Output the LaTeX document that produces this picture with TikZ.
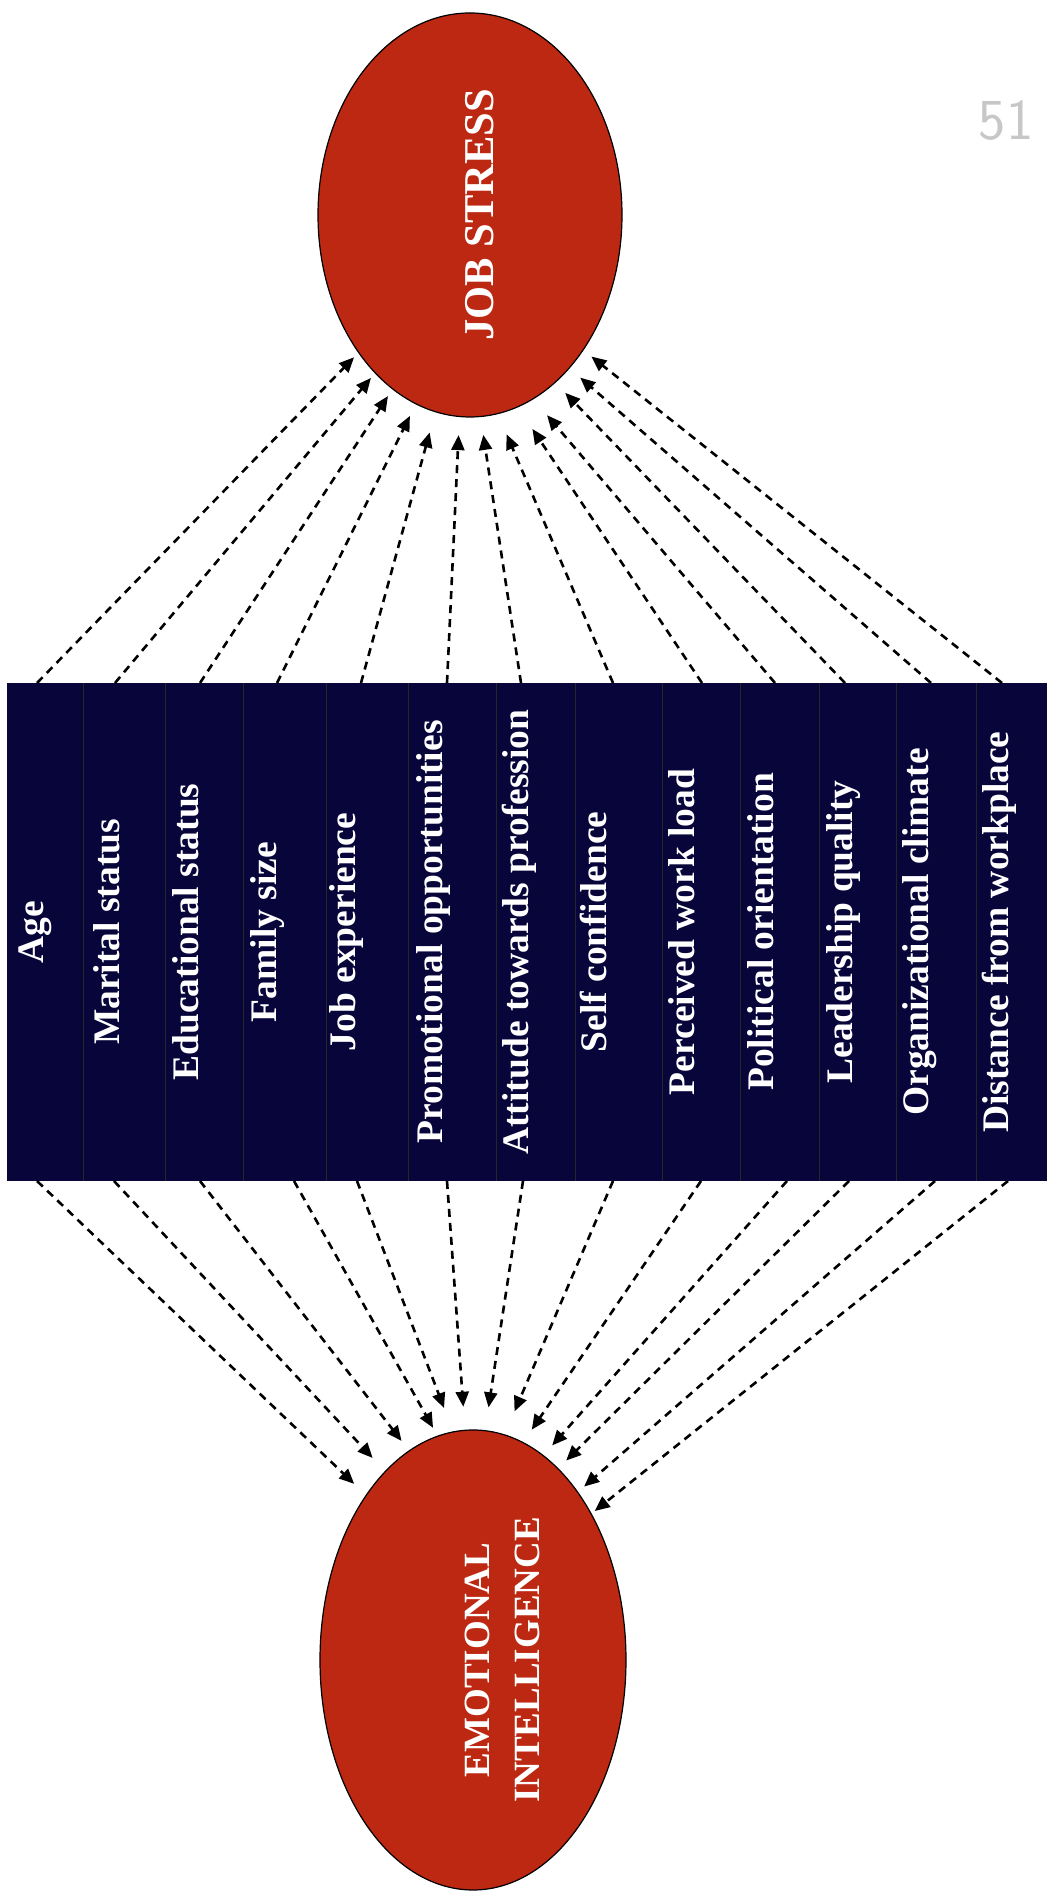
\documentclass[tikz,border=0pt]{standalone}
\usepackage{fontspec}
\setmainfont{Liberation Serif}
\usetikzlibrary{shapes.geometric,arrows.meta}
\definecolor{ovalred}{RGB}{189,40,18}
\definecolor{boxblue}{RGB}{7,5,58}

\begin{document}
\begin{tikzpicture}[x=1pt,y=1pt,
    oval/.style={ellipse,draw=black,line width=1.2pt,fill=ovalred,inner sep=0pt},
    ovaltext/.style={rotate=90,text=white,align=center,inner sep=0pt,font=\bfseries\fontsize{37}{50}\selectfont},
    factor/.style={rotate=90,anchor=base,text=white,inner sep=0pt,font=\bfseries\fontsize{37.5}{45}\selectfont},
    dep/.style={dash pattern=on 8pt off 6pt,line width=2.6pt,-{Triangle[length=15pt,width=13pt]}}]
  \useasboundingbox (0,0) rectangle (1047,1893);
  \def\boxtop{1210}
  \def\boxbot{712}
  % the two outcome variables
  \node[oval,minimum width=304pt,minimum height=404pt] (js) at (470,1678) {};
  \node[ovaltext,font=\bfseries\fontsize{42.5}{50}\selectfont] (jst) at (480,1678) {JOB STRESS};
  \node[oval,minimum width=306pt,minimum height=460pt] (ei) at (473,233) {};
  \node[ovaltext] (eit) at (502,233) {EMOTIONAL\\INTELLIGENCE};
  % the box of factors, one column each
  \fill[boxblue] (7,\boxbot) rectangle (1047,\boxtop);
  \foreach \x in {83,165,243,326,408,496,575,662,740,819,896,976}
    \draw[black!85,line width=1pt] (\x,\boxbot) -- (\x,\boxtop);
  \foreach \x/\txt [count=\i] in {43/Age,119/Marital status,198/Educational status,
      276/Family size,355/Job experience,442/Promotional opportunities,
      528/Attitude towards profession,606/Self confidence,694/Perceived work load,
      773/Political orientation,852/Leadership quality,928/Organizational climate,
      1008/Distance from workplace}
    \node[factor] (f\i) at (\x,961) {\txt};
  % arrows up to job stress: start x / angle on the oval / gap
  \foreach \x/\a/\g [count=\i] in {37/231/6,115/239.8/6,200/246/8,277/254.5/13,
      361/260.2/21,447/267.9/18,521/273.9/18,613/278.5/22,702/284.5/26,
      775/289.9/21,845/297.1/14,931/303.2/14,1002/310.2/10} {
    \coordinate (t\i) at (\x,\boxtop);
    \draw[dep,shorten >=\g pt] (t\i) -- (js.\a);
  }
  % arrows down to emotional intelligence
  \foreach \x/\a/\g [count=\i] in {37/123.2/16,114/115.5/18,200/107.7/12,294/99.8/9,
      357/95.9/25,447/92/23,523/87.7/23,613/82.8/25,701/77.1/15,
      787/71.8/13,849/66.8/11,935/58.8/8,1008/51.6/4} {
    \coordinate (b\i) at (\x,\boxbot);
    \draw[dep,shorten >=\g pt] (b\i) -- (ei.\a);
  }
  % page number written by hand
  \node[text=black!22,font=\sffamily\fontsize{58}{58}\selectfont] (pg) at (1006,1773) {51};
\end{tikzpicture}
\end{document}
